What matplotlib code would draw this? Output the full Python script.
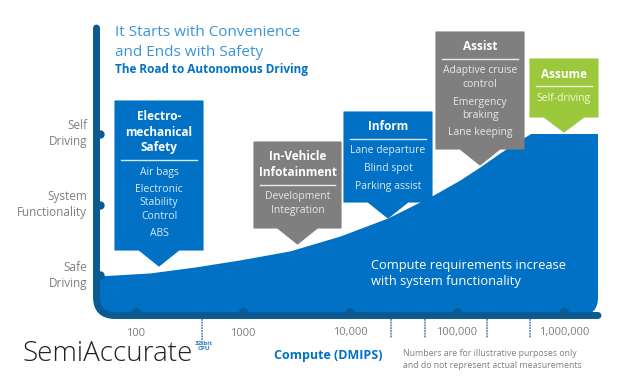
import matplotlib
matplotlib.use("Agg")
import matplotlib.pyplot as plt
import numpy as np
from matplotlib.patches import Polygon, FancyBboxPatch, PathPatch
from matplotlib.path import Path
from matplotlib.transforms import blended_transform_factory

plt.rcParams['font.family'] = ['Open Sans', 'DejaVu Sans']

# ---- data ----
compute_ticks = [100, 1000, 10000, 100000, 1000000]
compute_labels = ["100", "1000", "10,000", "100,000", "1,000,000"]
marker_compute = [410, 24000, 50000, 190000, 480000]   # dashed markers under the axis
levels = [22, 61, 100]
level_labels = ["Safe\nDriving", "System\nFunctionality", "Self\nDriving"]

# compute requirement curve (DMIPS vs functionality)
curve_x = [43, 135, 356, 937, 2750, 8070, 22600, 55900, 107000, 164000, 252000,
           388000, 481000, 2.1e6]
curve_y = [21.5, 23.2, 26.5, 30.4, 35.4, 43.6, 53.6, 65.2, 74.6, 81.8, 89.5,
           96.7, 100, 100]

stage_titles = ["Electro-\nmechanical\nSafety", "In-Vehicle\nInfotainment", "Inform", "Assist", "Assume"]
stage_items = [
    ["Air bags", "Electronic\nStability\nControl", "ABS"],
    ["Development\nIntegration"],
    ["Lane departure", "Blind spot", "Parking assist"],
    ["Adaptive cruise\ncontrol", "Emergency\nbraking", "Lane keeping"],
    ["Self-driving"],
]

# ---- styling / layout (pixels) ----
BLUE = "#0071c5"
DARK = "#0b5a92"
GRAY = "#7f7f7f"
GREEN = "#9cc83b"
stage_colors = [BLUE, GRAY, BLUE, GRAY, GREEN]
item_colors = ["#d9e9f7", "#e8e8e8", "#d9e9f7", "#e8e8e8", "#f2f8e0"]
# x0, x1, top, bottom, tip
stage_boxes = [(115, 203, 101, 250, 266),
               (254, 341, 142, 228, 244),
               (344, 432, 112, 202, 218),
               (436, 524, 32, 149, 165),
               (530, 598, 59, 117, 132)]

fig = plt.figure(figsize=(6.17, 3.83), dpi=100)
ax = fig.add_axes([0, 0, 1, 1])
ax.set_xscale('log')
ax.set_xlim(10 ** (2 - 136 / 107), 10 ** (2 + 481 / 107))
ax.set_ylim(-37.6, 174.0)
ax.axis('off')

lay = fig.add_axes([0, 0, 1, 1], zorder=2)
lay.set_xlim(0, 617)
lay.set_ylim(383, 0)
lay.axis('off')

bx = blended_transform_factory(ax.transData, lay.transData)   # x data, y pixels
by = blended_transform_factory(lay.transData, ax.transData)   # x pixels, y data

# filled compute curve
clip = FancyBboxPatch((97, -20), 501, 335.5, boxstyle="round,pad=0,rounding_size=18",
                      transform=lay.transData)
fill = ax.fill_between(curve_x, curve_y, -3, color=BLUE, lw=0, zorder=1)
fill.set_clip_path(clip)

# axis frame
frame = Path([(96.5, 28), (96.5, 297), (96.5, 315.5), (115, 315.5), (598, 315.5)],
             [Path.MOVETO, Path.LINETO, Path.CURVE3, Path.CURVE3, Path.LINETO])
lay.add_patch(PathPatch(frame, fill=False, lw=5, ec=DARK, capstyle='round', joinstyle='round'))

# level dots and labels
ax.plot([99.5] * len(levels), levels, 'o', ms=5, color=DARK, transform=by, zorder=5, clip_on=False)
for lv, lab in zip(levels, level_labels):
    ax.text(87, lv, lab, transform=by, ha='right', va='center', fontsize=8.5,
            color=GRAY, linespacing=1.3)

# compute ticks
ax.plot(compute_ticks, [312] * len(compute_ticks), 'o', ms=5.5, color=DARK, transform=bx,
        zorder=5, clip_on=False)
for v, lab in zip(compute_ticks, compute_labels):
    ax.text(v, 333, lab, transform=bx, ha='center', va='center', fontsize=8, color=GRAY)

for i, v in enumerate(marker_compute):
    ax.plot([v, v], [319, 345 if i == 0 else 338], transform=bx, color="#3f7cb4",
            lw=1.1, ls=(0, (1.2, 0.6)), zorder=3)
ax.text(marker_compute[0] * 1.05, 346, "32-bit\nCPU", transform=bx, ha='center',
        va='center', fontsize=4.5, color="#2a7fc4", fontweight='bold', linespacing=1.1)

# stage boxes
for title, items, col, icol, (x0, x1, top, bot, tip) in zip(
        stage_titles, stage_items, stage_colors, item_colors, stage_boxes):
    cx = (x0 + x1) / 2
    hw = 20
    poly = Polygon([(x0, top), (x1, top), (x1, bot), (cx + hw, bot), (cx, tip),
                    (cx - hw, bot), (x0, bot)], closed=True, fc=col, ec=col, lw=0.8,
                   joinstyle='round')
    lay.add_patch(poly)
    y = top + 15
    tlines = title.split("\n")
    for k, t in enumerate(tlines):
        lay.text(cx, y + 16 * k, t, ha='center', va='center', fontsize=8.5,
                 fontweight='bold', color='white')
    sep = y + 16 * (len(tlines) - 1) + 12
    lay.plot([x0 + 6, x1 - 6], [sep, sep], color='white', lw=1, alpha=0.85)
    yy = sep + 12
    for it in items:
        for line in it.split("\n"):
            lay.text(cx, yy, line, ha='center', va='center', fontsize=7.5, color=icol)
            yy += 13.5
        yy += 4

# texts
lay.text(115, 33, "It Starts with Convenience", ha='left', va='center', fontsize=11,
         color="#3a95d8")
lay.text(115, 52, "and Ends with Safety", ha='left', va='center', fontsize=11,
         color="#3a95d8")
lay.text(115, 69, "The Road to Autonomous Driving", ha='left', va='center', fontsize=8.5,
         color=BLUE, fontweight='bold')
lay.text(371, 265, "Compute requirements increase", ha='left', va='center',
         fontsize=9.3, color='white')
lay.text(371, 281, "with system functionality", ha='left', va='center',
         fontsize=9.3, color='white')
lay.text(328, 355, "Compute (DMIPS)", ha='center', va='center', fontsize=9,
         color=BLUE, fontweight='bold')
lay.text(403, 354, "Numbers are for illustrative purposes only", ha='left', va='center',
         fontsize=6.3, color=GRAY)
lay.text(403, 366, "and do not represent actual measurements", ha='left', va='center',
         fontsize=6.3, color=GRAY)
lay.text(22, 354, "SemiAccurate", ha='left', va='center', fontsize=20, color="#222222",
         fontweight='light')

fig.savefig("out.png", dpi=100)
